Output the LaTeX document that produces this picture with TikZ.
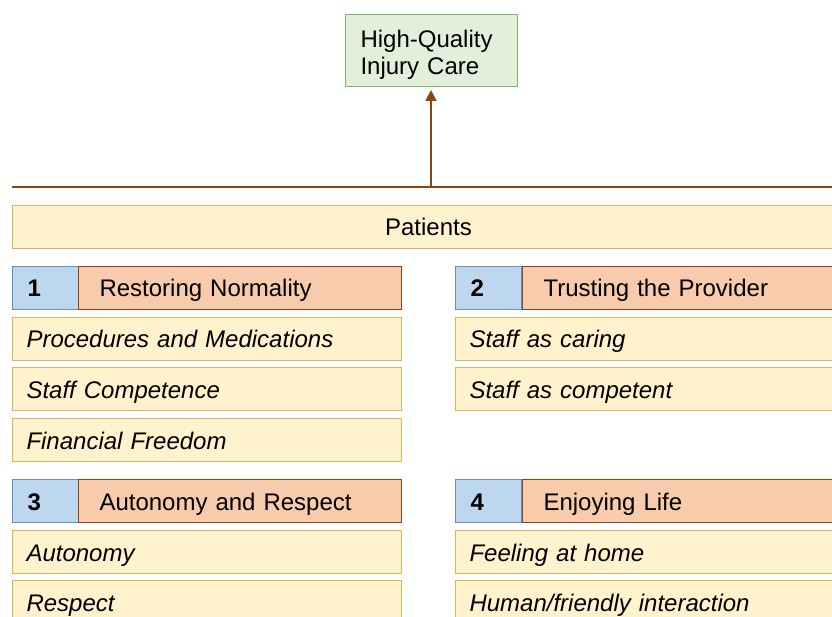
\documentclass[tikz,border=0pt]{standalone}
\usepackage{fontspec}
\setmainfont{Liberation Sans}
\usetikzlibrary{arrows.meta}
\definecolor{gfill}{HTML}{E2EFDA}
\definecolor{gline}{HTML}{82B366}
\definecolor{yfill}{HTML}{FFF2CC}
\definecolor{yline}{HTML}{D6B656}
\definecolor{ofill}{HTML}{F8CBAD}
\definecolor{oline}{HTML}{8B4513}
\definecolor{bfill}{HTML}{BDD7EE}
\definecolor{bline}{HTML}{6C8EBF}
\definecolor{brown}{HTML}{8B4513}
\begin{document}
\begin{tikzpicture}[x=1pt,y=-1pt,
  every node/.style={font=\fontsize{24}{27}\selectfont, line width=1pt, anchor=north west, inner ysep=0pt},
  cell/.style={text height=30.5pt, text depth=12.5pt, minimum height=43pt},
  goal/.style={draw=gline, fill=gfill, text height=33pt, text depth=39pt, text width=142pt, inner xsep=15pt, align=left},
  item/.style={cell, draw=yline, fill=yfill, text width=361pt, inner xsep=14pt, align=left, font=\fontsize{24}{27}\selectfont\itshape},
  band/.style={cell, draw=yline, fill=yfill, text width=832pt, inner xsep=0pt, align=center},
  numbox/.style={cell, draw=bline, fill=bfill, text width=36pt, inner xsep=15pt, align=left, font=\fontsize{24}{27}\selectfont\bfseries},
  headbox/.style={cell, draw=oline, fill=ofill, text width=281pt, inner xsep=21pt, align=left},
  conn/.style={draw=brown, line width=1.8pt}]
\useasboundingbox (0,0) rectangle (832,617);
\clip (0,0) rectangle (832,617);
\fill[white] (0,0) rectangle (832,617);

\node[goal] (goal) at (345,14) {High-Quality\\Injury Care};
\coordinate (l0) at (12,187);
\coordinate (l1) at (845,187);
\coordinate (j) at (431,187);
\draw[conn] (l0) -- (l1);
\draw[conn, shorten >=3pt, -{Triangle[length=11pt,width=11pt]}] (j) -- (goal.south -| j);

\node[band] (pat) at (12,205) {Patients};

\node[numbox] (n1) at (12,266) {1};
\node[headbox] (h1) at (78,266) {Restoring Normality};
\node[item] (i11) at (12,317) {Procedures and Medications};
\node[item] (i12) at (12,367) {Staff Competence};
\node[item] (i13) at (12,418) {Financial Freedom};

\node[numbox] (n2) at (455,266) {2};
\node[headbox, text width=282pt] (h2) at (522,266) {Trusting the Provider};
\node[item] (i21) at (455,317) {Staff as caring};
\node[item] (i22) at (455,367) {Staff as competent};

\node[numbox] (n3) at (12,479) {3};
\node[headbox] (h3) at (78,479) {Autonomy and Respect};
\node[item] (i31) at (12,530) {Autonomy};
\node[item] (i32) at (12,580) {Respect};

\node[numbox] (n4) at (455,479) {4};
\node[headbox, text width=282pt] (h4) at (522,479) {Enjoying Life};
\node[item] (i41) at (455,530) {Feeling at home};
\node[item] (i42) at (455,580) {Human/friendly interaction};
\end{tikzpicture}
\end{document}
